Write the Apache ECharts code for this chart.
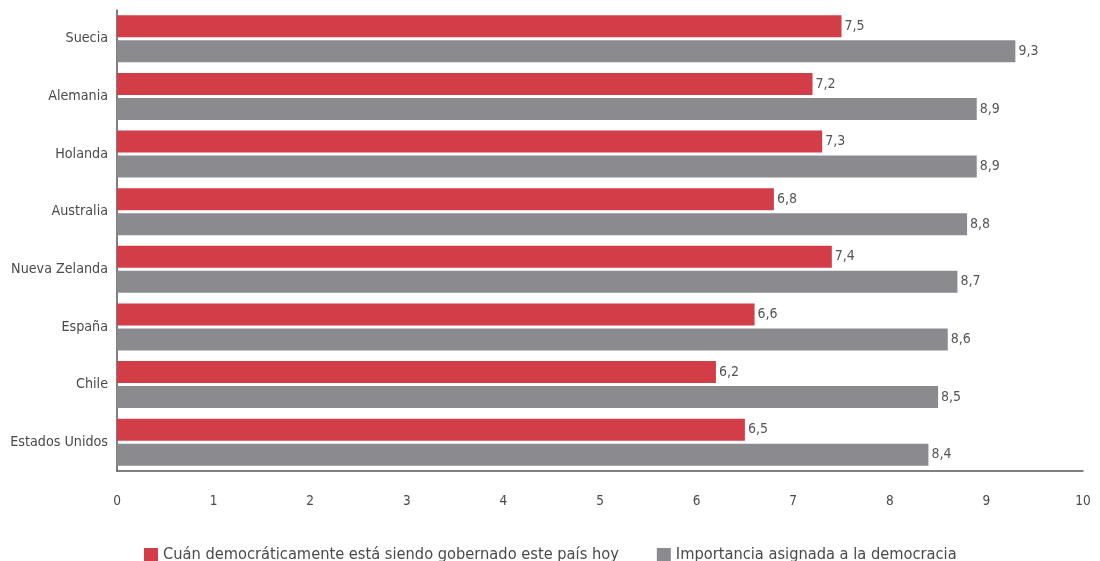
<!DOCTYPE html>
<html>
<head>
<meta charset="utf-8">
<script src="https://cdn.jsdelivr.net/npm/echarts@6/dist/echarts.min.js"></script>
<style>
  html, body { margin: 0; padding: 0; background: #ffffff; }
  #chart { width: 1100px; height: 561px; }
</style>
</head>
<body>
<div id="chart"></div>
<script>
// Countries, top to bottom
const paises = ['Suecia', 'Alemania', 'Holanda', 'Australia', 'Nueva Zelanda', 'España', 'Chile', 'Estados Unidos'];
// Series names
const nombreGobierno = 'Cuán democráticamente está siendo gobernado este país hoy';
const nombreImportancia = 'Importancia asignada a la democracia';
// Scores (0–10)
const gobierno = [7.5, 7.2, 7.3, 6.8, 7.4, 6.6, 6.2, 6.5];
const importancia = [9.3, 8.9, 8.9, 8.8, 8.7, 8.6, 8.5, 8.4];

const FONT = '"Liberation Sans Narrow", "DejaVu Sans Condensed", sans-serif';
const TEXT = '#4a4a4a';
const fmt = v => String(v).replace('.', ',');

const chart = echarts.init(document.getElementById('chart'), null, { renderer: 'canvas' });

const valueLabel = {
  show: true,
  position: 'right',
  distance: 3,
  color: '#555555',
  fontFamily: FONT,
  fontSize: 14,
  formatter: p => fmt(p.value)
};

chart.setOption({
  animation: false,
  textStyle: { fontFamily: FONT },
  grid: { left: 117, right: 17, top: 10, bottom: 90, containLabel: false, outerBoundsMode: 'none' },
  xAxis: {
    type: 'value',
    min: 0,
    max: 10,
    interval: 1,
    axisLine: { show: true, lineStyle: { color: '#555555', width: 1.5 } },
    axisTick: { show: false },
    splitLine: { show: false },
    axisLabel: { color: TEXT, fontFamily: FONT, fontSize: 13.5, margin: 23 }
  },
  yAxis: {
    type: 'category',
    data: paises,
    inverse: true,
    axisLine: { show: true, lineStyle: { color: '#555555', width: 1.5 } },
    axisTick: { show: false },
    axisLabel: { color: TEXT, fontFamily: FONT, fontSize: 14.2, margin: 9 }
  },
  legend: {
    left: 139,
    top: 542,
    itemWidth: 14,
    itemHeight: 14,
    itemGap: 38,
    icon: 'rect',
    textStyle: { color: TEXT, fontFamily: FONT, fontSize: 16.3 },
    data: [nombreGobierno, nombreImportancia]
  },
  series: [
    {
      name: nombreGobierno,
      type: 'bar',
      data: gobierno,
      barWidth: 22,
      barGap: '14%',
      itemStyle: { color: '#D33D47' },
      label: valueLabel
    },
    {
      name: nombreImportancia,
      type: 'bar',
      data: importancia,
      barWidth: 22,
      itemStyle: { color: '#8B8B8F' },
      label: valueLabel
    }
  ]
});
</script>
</body>
</html>
